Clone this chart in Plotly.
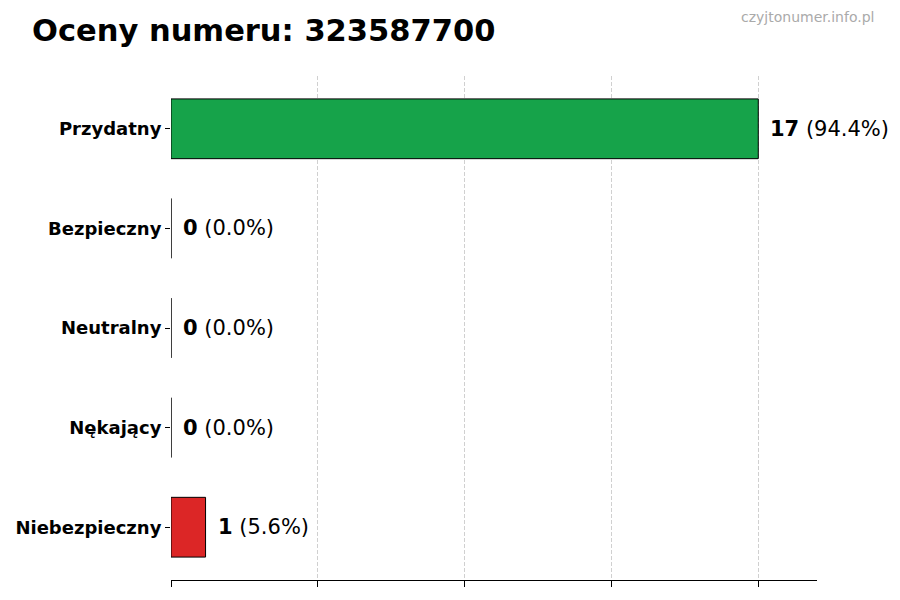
import plotly.graph_objects as go

categories = ["Przydatny", "Bezpieczny", "Neutralny", "Nękający", "Niebezpieczny"]
counts = [17, 0, 0, 0, 1]
colors = ["#16a34a", "#6b7280", "#3b82f6", "#f97316", "#dc2626"]
title_text = "Oceny numeru: 323587700"
watermark = "czyjtonumer.info.pl"

total = sum(counts)
xmax = max(counts) * 1.1
tickvals = [max(counts) * i / 4 for i in range(5)]

fig = go.Figure()
fig.add_trace(go.Bar(
    y=categories, x=counts, orientation="h", width=0.6,
    marker=dict(color=colors, line=dict(color="#000000", width=1)),
    hoverinfo="skip",
))

for c, v in zip(categories, counts):
    pct = 100 * v / total if total else 0
    fig.add_annotation(
        x=v, y=c, xref="x", yref="y",
        text=f"<b>{v}</b> ({pct:.1f}%)",
        showarrow=False, xanchor="left", yanchor="middle", xshift=10,
        font=dict(family="DejaVu Sans", size=21, color="#000000"),
    )

fig.add_annotation(
    x=1.0913, y=1.117, xref="paper", yref="paper", text=watermark,
    showarrow=False, xanchor="right", yanchor="middle",
    font=dict(family="DejaVu Sans", size=14, color="#aaaaaa"),
)

fig.update_layout(
    width=900, height=600,
    margin=dict(l=163, r=91, t=68, b=28, autoexpand=False),
    paper_bgcolor="white", plot_bgcolor="white",
    showlegend=False,
    title=dict(text=f"<b>{title_text}</b>", x=0.0267, xref="container", xanchor="left",
               y=0.963, yref="container", yanchor="middle",
               font=dict(family="DejaVu Sans", size=30.5, color="#000000")),
)

fig.update_xaxes(
    range=[0, xmax], tickvals=tickvals, showticklabels=False,
    ticks="outside", ticklen=6, tickcolor="#000000",
    showgrid=True, gridcolor="#d0d0d0", griddash="4px,2px", gridwidth=1,
    showline=True, linecolor="#000000", linewidth=1, zeroline=False,
    automargin=False,
)
fig.update_yaxes(
    autorange=False, range=[4.53, -0.53], categoryorder="array", categoryarray=categories,
    ticks="outside", ticklen=5, tickcolor="#000000",
    tickfont=dict(family="DejaVu Sans", size=18, color="#000000", weight="bold"),
    showgrid=False, showline=False, zeroline=False, automargin=False,
)

fig.write_html("out.html")
